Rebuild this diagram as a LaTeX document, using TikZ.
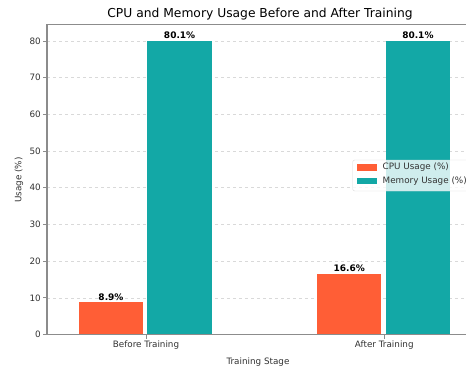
\documentclass[tikz,border=0pt]{standalone}
\usepackage{fontspec}
\setmainfont{DejaVu Sans}
\definecolor{cpuorange}{HTML}{FF5E36}
\definecolor{memteal}{HTML}{13A8A6}
\definecolor{spinegray}{HTML}{8C8C8C}

\begin{document}
\begin{tikzpicture}
 [x=1pt, y=-1pt,
  grid/.style={draw=gray!30, dashed, line width=0.5pt},
  spine/.style={draw=spinegray, line width=1.1pt},
  tickmark/.style={draw=spinegray, line width=0.7pt},
  ticklbl/.style={font=\fontsize{8.8}{10}\selectfont, text=black!80, inner sep=1pt},
  barlbl/.style={font=\bfseries\fontsize{9}{10}\selectfont, above, inner sep=1.5pt},
  cpubar/.style={fill=cpuorange},
  membar/.style={fill=memteal}]

  \useasboundingbox (0,0) rectangle (466,372);
  \fill[white] (0,0) rectangle (466,372);

  % y grid, ticks and labels
  \foreach \v in {0,10,...,80} {
    \draw[grid] (47,334.5-3.669*\v) -- (466,334.5-3.669*\v);
    \draw[tickmark] (43,334.5-3.669*\v) -- (47,334.5-3.669*\v);
    \node[ticklbl, anchor=east] (y\v) at (42,334.5-3.669*\v) {\v};
  }

  % bars, in data units
  \begin{scope}[shift={(146,334.5)}, x=238.3pt, y=3.669pt]
    \foreach \c/\cpu/\mem in {0/8.9/80.1, 1/16.6/80.1} {
      \fill[cpubar] (\c-0.282,0) rectangle (\c-0.012,\cpu);
      \fill[membar] (\c+0.006,0) rectangle (\c+0.275,\mem);
      \node[barlbl] (cpu\c) at (\c-0.147,\cpu) {\cpu\%};
      \node[barlbl] (mem\c) at (\c+0.141,\mem) {\mem\%};
    }
  \end{scope}

  % axes frame
  \draw[spine] (466,24.3) -- (47,24.3) -- (47,334.5) -- (466,334.5);
  \foreach \x/\name in {146/Before Training, 384.3/After Training} {
    \draw[tickmark] (\x,334.5) -- (\x,338.5);
    \node[ticklbl, anchor=north] at (\x,339.5) {\name};
  }

  \node[font=\fontsize{12.3}{14}\selectfont] (title) at (260,14) {CPU and Memory Usage Before and After Training};
  \node[ticklbl, rotate=90] (ylab) at (19,180) {Usage (\%)};
  \node[ticklbl] (xlab) at (258,361.7) {Training Stage};

  % legend
  \begin{scope}
    \clip (0,0) rectangle (466,372);
    \draw[draw=gray!30, fill=white, fill opacity=0.8, rounded corners=2pt] (352.7,160) rectangle (475,191);
    \fill[cpubar] (356.7,164) rectangle (376.7,170.5);
    \fill[membar] (356.7,177.5) rectangle (376.7,184);
    \node[ticklbl, anchor=west] (lcpu) at (381.5,167.3) {CPU Usage (\%)};
    \node[ticklbl, anchor=west] (lmem) at (381.5,180.7) {Memory Usage (\%)};
  \end{scope}
\end{tikzpicture}
\end{document}
